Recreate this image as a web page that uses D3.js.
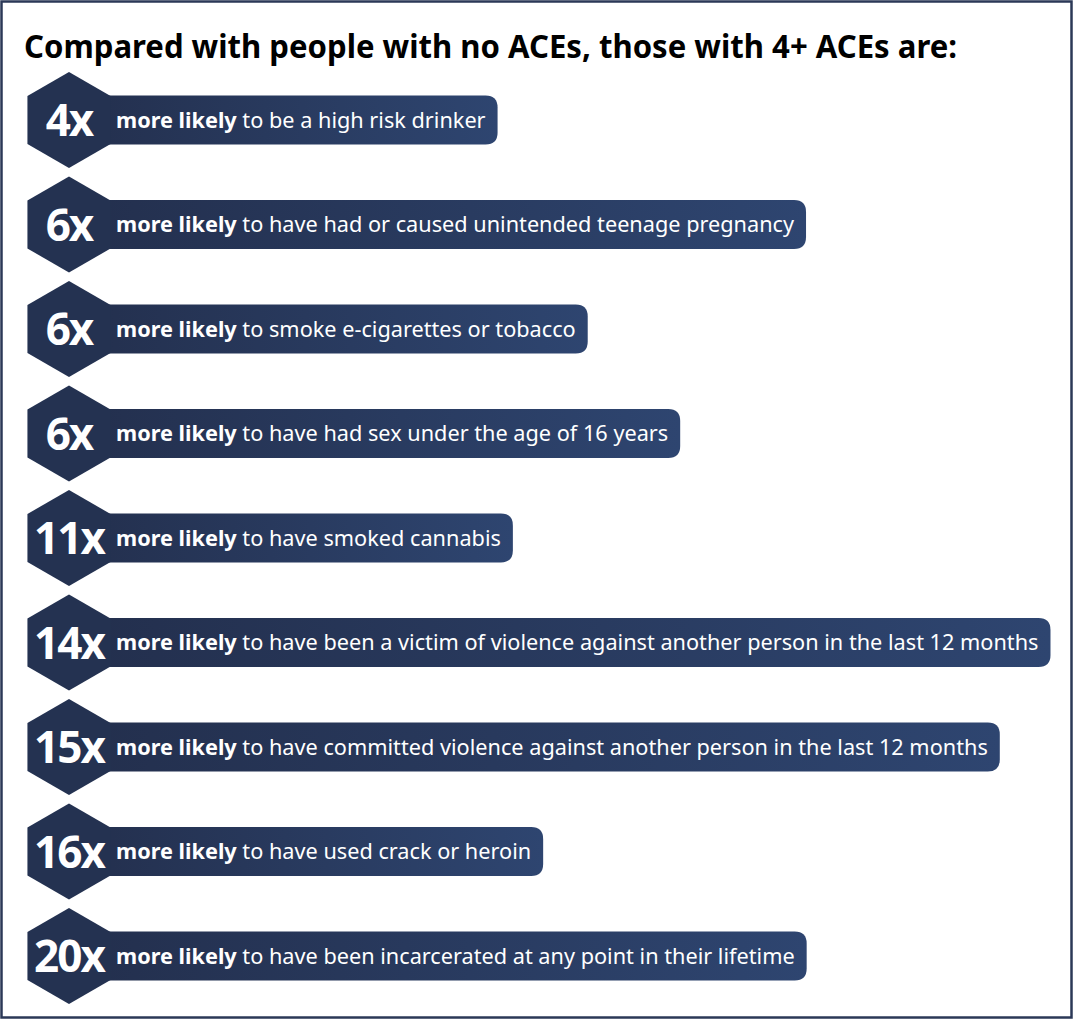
<!DOCTYPE html>
<html>
<head>
<meta charset="utf-8">
<script src="https://cdn.jsdelivr.net/npm/d3@7"></script>
<style>
  html, body { margin: 0; padding: 0; background: #fff; }
  svg { display: block; }
</style>
</head>
<body>
<svg id="chart" width="1074" height="1021"></svg>
<script>
const title = "Compared with people with no ACEs, those with 4+ ACEs are:";
const multipliers = [4, 6, 6, 6, 11, 14, 15, 16, 20];
const outcomes = [
  "to be a high risk drinker",
  "to have had or caused unintended teenage pregnancy",
  "to smoke e-cigarettes or tobacco",
  "to have had sex under the age of 16 years",
  "to have smoked cannabis",
  "to have been a victim of violence against another person in the last 12 months",
  "to have committed violence against another person in the last 12 months",
  "to have used crack or heroin",
  "to have been incarcerated at any point in their lifetime"
];
const lead = "more likely";

const width = 1074, height = 1021;
const svg = d3.select("#chart");
const font = "'Noto Sans', sans-serif";

// gradient for the bars
const defs = svg.append("defs");
const grad = defs.append("linearGradient").attr("id", "barGrad")
  .attr("x1", "0%").attr("x2", "100%").attr("y1", "0%").attr("y2", "0%");
grad.append("stop").attr("offset", "0%").attr("stop-color", "#232f4d");
grad.append("stop").attr("offset", "100%").attr("stop-color", "#2e4570");

// frame
svg.append("rect")
  .attr("x", 1.5).attr("y", 1.5)
  .attr("width", width - 4).attr("height", height - 5)
  .attr("fill", "#fff").attr("stroke", "#2b3857").attr("stroke-width", 2.5);

svg.append("text")
  .attr("x", 24).attr("y", 58)
  .attr("font-family", font).attr("font-weight", 700)
  .attr("font-size", 31.5).attr("fill", "#000")
  .attr("textLength", 933).attr("lengthAdjust", "spacingAndGlyphs")
  .text(title);

const rows = d3.range(multipliers.length);
const y = d3.scalePoint().domain(rows).range([120, 956]);

const hexR = 48, hexCx = 69, barH = 49, textX = 116, padR = 12;

const g = svg.append("g").selectAll("g")
  .data(rows).join("g")
  .attr("transform", d => `translate(0,${y(d)})`);

// label text first (to measure), bars inserted behind
const label = g.append("text")
  .attr("x", textX).attr("y", 0).attr("dy", "0.35em")
  .attr("font-family", font).attr("font-size", 21.7).attr("fill", "#fff");
label.append("tspan").attr("font-weight", 700).text(lead);
label.append("tspan").attr("font-weight", 400).text(d => " " + outcomes[d]);

g.each(function(d) {
  const row = d3.select(this);
  const tw = row.select("text").node().getComputedTextLength();
  const x0 = hexCx, x1 = textX + tw + padR, r = 12;
  const h = barH / 2;
  row.insert("path", "text")
    .attr("d", `M${x0},${-h} H${x1 - r} Q${x1},${-h} ${x1},${-h + r} V${h - r} Q${x1},${h} ${x1 - r},${h} H${x0} Z`)
    .attr("fill", "url(#barGrad)");
});

// hexagons
const hexPts = d3.range(6).map(i => {
  const a = (-90 + 60 * i) * Math.PI / 180;
  return [hexCx + hexR * Math.cos(a), hexR * Math.sin(a)];
});
g.insert("path", "text")
  .attr("d", d3.line()(hexPts) + "Z")
  .attr("fill", "#243251");

g.append("text")
  .attr("x", hexCx).attr("y", 16)
  .attr("text-anchor", "middle")
  .attr("font-family", font).attr("font-weight", 700)
  .attr("font-size", 44).attr("fill", "#fff")
  .attr("letter-spacing", -2)
  .each(function(d) {
    const s = multipliers[d] + "x";
    const t = d3.select(this).text(s);
    const w = this.getComputedTextLength();
    const maxW = multipliers[d] >= 10 ? 70 : 47;
    if (w > maxW) t.attr("textLength", maxW).attr("lengthAdjust", "spacingAndGlyphs");
  });
</script>
</body>
</html>
